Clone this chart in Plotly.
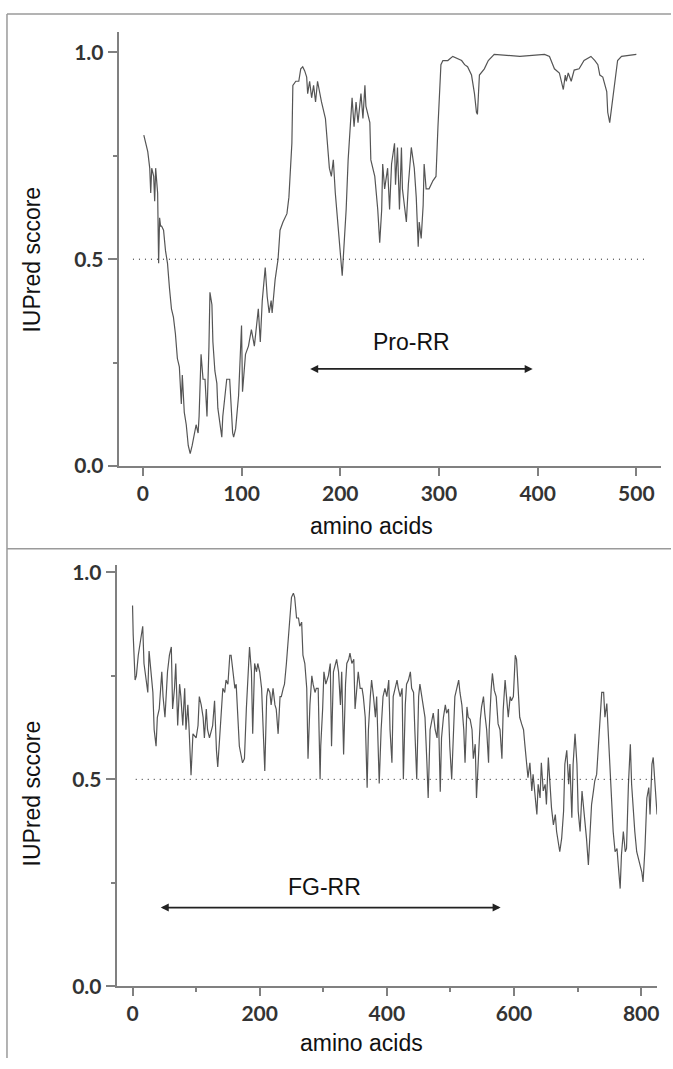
import plotly.graph_objects as go

W, H = 673, 1069

# IUPred profile, upper protein (residue, score)
top_aa = [1, 3, 5, 7, 8, 9, 11, 12, 13, 15, 16, 17, 18, 19, 21, 23, 25, 27, 29, 31, 33, 35, 37, 39, 40,
          42, 44, 46, 48, 50, 52, 54, 56, 57, 59, 61, 63, 65, 67, 68, 70, 71, 73, 75, 76, 79, 80, 81, 84,
          85, 88, 89, 91, 92, 94, 97, 100, 101, 104, 107, 110, 113, 116, 117, 119, 121, 124, 126, 128,
          130, 131, 134, 137, 139, 142, 146, 148, 151, 152, 155, 158, 160, 162, 164, 166, 167, 169, 171,
          173, 175, 177, 179, 181, 185, 187, 189, 191, 193, 195, 197, 199, 200, 202, 204, 206, 208, 210,
          212, 214, 216, 218, 221, 223, 225, 226, 230, 231, 235, 238, 240, 242, 243, 245, 248, 250, 252,
          255, 256, 258, 260, 262, 263, 267, 269, 272, 275, 277, 279, 280, 282, 284, 285, 287, 290, 294,
          297, 299, 302, 304, 309, 314, 318, 323, 326, 329, 333, 336, 338, 339, 341, 346, 350, 356, 382,
          407, 412, 417, 422, 424, 426, 428, 429, 431, 434, 437, 442, 447, 454, 458, 461, 463, 466, 470,
          471, 473, 474, 477, 481, 485, 500]
top_score = [0.80, 0.78, 0.76, 0.72, 0.66, 0.72, 0.70, 0.64, 0.72, 0.66, 0.49, 0.60, 0.58, 0.58, 0.57,
             0.52, 0.49, 0.43, 0.38, 0.36, 0.32, 0.26, 0.24, 0.15, 0.22, 0.13, 0.10, 0.05, 0.03, 0.05,
             0.08, 0.10, 0.08, 0.12, 0.27, 0.21, 0.21, 0.12, 0.29, 0.42, 0.39, 0.30, 0.23, 0.20, 0.14,
             0.08, 0.07, 0.12, 0.18, 0.21, 0.21, 0.16, 0.08, 0.07, 0.09, 0.17, 0.34, 0.18, 0.27, 0.29,
             0.33, 0.29, 0.36, 0.38, 0.30, 0.40, 0.48, 0.41, 0.37, 0.40, 0.37, 0.45, 0.50, 0.57, 0.59,
             0.61, 0.65, 0.78, 0.92, 0.93, 0.93, 0.96, 0.965, 0.955, 0.94, 0.90, 0.93, 0.89, 0.92, 0.88,
             0.93, 0.90, 0.88, 0.84, 0.78, 0.72, 0.70, 0.74, 0.66, 0.60, 0.54, 0.50, 0.46, 0.54, 0.62,
             0.74, 0.82, 0.89, 0.82, 0.88, 0.83, 0.90, 0.84, 0.92, 0.87, 0.83, 0.74, 0.70, 0.62, 0.54,
             0.62, 0.73, 0.67, 0.72, 0.62, 0.73, 0.78, 0.68, 0.77, 0.62, 0.77, 0.67, 0.59, 0.68, 0.77,
             0.72, 0.65, 0.53, 0.59, 0.55, 0.63, 0.73, 0.67, 0.67, 0.69, 0.70, 0.82, 0.97, 0.98, 0.98,
             0.99, 0.985, 0.98, 0.97, 0.965, 0.945, 0.90, 0.855, 0.85, 0.945, 0.96, 0.98, 0.995, 0.99,
             0.995, 0.99, 0.96, 0.95, 0.93, 0.91, 0.945, 0.93, 0.95, 0.93, 0.957, 0.96, 0.98, 0.99, 0.98,
             0.97, 0.945, 0.94, 0.905, 0.855, 0.83, 0.85, 0.905, 0.98, 0.99, 0.995]

# IUPred profile, lower protein
bot_aa = [0, 1, 4, 6, 9, 13, 16, 18, 21, 24, 26, 29, 32, 34, 37, 39, 42, 46, 48, 51, 55, 58, 61, 63, 66,
          68, 71, 74, 76, 79, 82, 84, 87, 89, 92, 95, 100, 103, 105, 108, 111, 113, 116, 118, 121, 126,
          129, 132, 134, 137, 139, 142, 145, 147, 150, 153, 155, 158, 161, 163, 168, 173, 176, 179, 182,
          184, 187, 189, 192, 195, 197, 200, 203, 205, 208, 211, 213, 216, 218, 221, 224, 226, 229, 232,
          234, 237, 239, 242, 245, 247, 250, 253, 255, 258, 261, 263, 266, 268, 271, 274, 276, 279, 282,
          284, 287, 289, 292, 295, 296, 299, 301, 304, 308, 311, 313, 316, 321, 324, 327, 329, 332, 335,
          337, 340, 342, 345, 348, 350, 353, 355, 358, 361, 363, 366, 369, 371, 374, 376, 379, 382, 384,
          387, 388, 391, 394, 397, 400, 403, 405, 408, 410, 413, 416, 418, 421, 424, 426, 429, 431, 434,
          437, 439, 442, 444, 447, 450, 452, 455, 460, 463, 465, 468, 471, 473, 476, 479, 481, 484, 486,
          489, 492, 494, 497, 499, 502, 505, 507, 510, 513, 515, 518, 521, 523, 526, 528, 531, 534, 536,
          539, 541, 544, 547, 549, 552, 554, 557, 560, 561, 564, 566, 569, 572, 575, 578, 581, 583, 586,
          589, 591, 594, 596, 599, 602, 604, 607, 609, 612, 615, 617, 620, 622, 625, 628, 630, 633, 636,
          638, 641, 643, 646, 649, 651, 654, 657, 659, 662, 665, 667, 670, 672, 675, 678, 680, 683, 686,
          688, 691, 693, 696, 699, 701, 704, 707, 709, 712, 714, 717, 719, 722, 725, 727, 730, 733, 736,
          738, 741, 743, 746, 748, 751, 754, 756, 759, 762, 764, 767, 769, 772, 775, 777, 780, 783, 785,
          788, 790, 793, 796, 798, 801, 803, 806, 809, 812, 814, 817, 819, 822, 825]
bot_score = [0.92, 0.85, 0.74, 0.75, 0.80, 0.84, 0.87, 0.78, 0.75, 0.71, 0.81, 0.76, 0.71, 0.62, 0.58,
             0.65, 0.67, 0.76, 0.70, 0.65, 0.76, 0.80, 0.82, 0.67, 0.72, 0.78, 0.63, 0.73, 0.70, 0.63,
             0.72, 0.62, 0.68, 0.62, 0.51, 0.61, 0.60, 0.63, 0.70, 0.68, 0.65, 0.60, 0.67, 0.62, 0.60,
             0.63, 0.69, 0.57, 0.53, 0.60, 0.65, 0.72, 0.71, 0.74, 0.73, 0.80, 0.80, 0.76, 0.72, 0.73,
             0.58, 0.54, 0.55, 0.67, 0.78, 0.82, 0.76, 0.61, 0.78, 0.76, 0.78, 0.76, 0.72, 0.62, 0.52,
             0.70, 0.72, 0.71, 0.68, 0.72, 0.68, 0.67, 0.61, 0.70, 0.70, 0.72, 0.73, 0.78, 0.85, 0.89,
             0.94, 0.95, 0.94, 0.89, 0.89, 0.87, 0.88, 0.80, 0.78, 0.72, 0.55, 0.68, 0.75, 0.73, 0.71,
             0.72, 0.72, 0.50, 0.58, 0.67, 0.76, 0.73, 0.75, 0.78, 0.58, 0.76, 0.79, 0.76, 0.68, 0.76,
             0.56, 0.73, 0.78, 0.79, 0.805, 0.78, 0.79, 0.67, 0.73, 0.76, 0.72, 0.72, 0.70, 0.65, 0.48,
             0.62, 0.70, 0.74, 0.70, 0.65, 0.70, 0.55, 0.49, 0.62, 0.70, 0.72, 0.70, 0.74, 0.62, 0.54,
             0.70, 0.72, 0.74, 0.72, 0.70, 0.72, 0.50, 0.68, 0.73, 0.74, 0.76, 0.72, 0.71, 0.62, 0.50,
             0.70, 0.73, 0.70, 0.65, 0.54, 0.455, 0.62, 0.65, 0.66, 0.62, 0.60, 0.67, 0.47, 0.60, 0.65,
             0.68, 0.66, 0.67, 0.58, 0.50, 0.62, 0.70, 0.72, 0.74, 0.71, 0.68, 0.62, 0.54, 0.675, 0.65,
             0.645, 0.62, 0.55, 0.585, 0.455, 0.57, 0.645, 0.675, 0.70, 0.66, 0.62, 0.54, 0.62, 0.715,
             0.756, 0.715, 0.70, 0.634, 0.62, 0.55, 0.667, 0.74, 0.675, 0.65, 0.70, 0.69, 0.70, 0.80,
             0.79, 0.70, 0.65, 0.634, 0.62, 0.585, 0.54, 0.504, 0.54, 0.472, 0.512, 0.455, 0.415, 0.488,
             0.455, 0.54, 0.472, 0.488, 0.439, 0.553, 0.472, 0.431, 0.39, 0.415, 0.374, 0.341, 0.325,
             0.358, 0.423, 0.537, 0.57, 0.488, 0.537, 0.407, 0.537, 0.61, 0.537, 0.423, 0.374, 0.472,
             0.439, 0.407, 0.358, 0.293, 0.35, 0.439, 0.472, 0.496, 0.512, 0.585, 0.683, 0.71, 0.71,
             0.65, 0.683, 0.618, 0.553, 0.455, 0.374, 0.325, 0.333, 0.293, 0.236, 0.317, 0.374, 0.325,
             0.333, 0.488, 0.585, 0.488, 0.415, 0.374, 0.325, 0.309, 0.293, 0.276, 0.252, 0.333, 0.455,
             0.48, 0.415, 0.537, 0.553, 0.488, 0.415]

top_ticks = [0, 100, 200, 300, 400, 500]
bot_ticks = [0, 200, 400, 600, 800]
bot_minor = [100, 300, 500, 700]
y_ticks = [0, 0.5, 1.0]
y_ticktext = ["0.0", "0.5", "1.0"]

# cutoff line and region arrows
top_cut = [-10, 509]
bot_cut = [5, 820]
pro_rr = dict(start=168, end=395, y=0.235, label="Pro-RR", lx=272, ly=0.30)
fg_rr = dict(start=42, end=579, y=0.19, label="FG-RR", lx=302, ly=0.24)


def px(x):
    return x / W


def py(y):
    return 1 - y / H


LINE = "#555555"
AXIS = "#808080"
tickfont = dict(family="Lato", size=21, color="#333333", weight="bold")
labfont = dict(family="Liberation Sans", size=23, color="#111111")

fig = go.Figure()
fig.add_trace(go.Scatter(x=top_aa, y=top_score, mode="lines",
                         line=dict(color=LINE, width=1.2), xaxis="x", yaxis="y"))
fig.add_trace(go.Scatter(x=top_cut, y=[0.5, 0.5], mode="lines",
                         line=dict(color="#222", width=1, dash="1px,5px"), xaxis="x", yaxis="y"))
fig.add_trace(go.Scatter(x=bot_aa, y=bot_score, mode="lines",
                         line=dict(color=LINE, width=1.2), xaxis="x2", yaxis="y2"))
fig.add_trace(go.Scatter(x=bot_cut, y=[0.5, 0.5], mode="lines",
                         line=dict(color="#222", width=1, dash="1px,5px"), xaxis="x2", yaxis="y2"))

ax_common = dict(showline=True, linecolor=AXIS, linewidth=1.8, ticks="outside", tickcolor=AXIS,
                 tickwidth=1.5, showgrid=False, zeroline=False, tickfont=tickfont)

fig.update_layout(
    width=W, height=H, margin=dict(l=0, r=0, t=0, b=0),
    paper_bgcolor="white", plot_bgcolor="white", showlegend=False,
    xaxis=dict(domain=[px(119), px(663)], range=[-24.5, 525], anchor="y",
               tickvals=top_ticks, ticklen=8, **ax_common),
    yaxis=dict(domain=[py(467), py(25)], range=[0, 1.05], anchor="x",
               tickvals=y_ticks, ticktext=y_ticktext, ticklen=9,
               minor=dict(tickvals=[0.25, 0.75], ticklen=4, ticks="outside", tickcolor=AXIS),
               **ax_common),
    xaxis2=dict(domain=[px(117), px(659)], range=[-25, 825], anchor="y2",
                tickvals=bot_ticks, ticklen=8,
                minor=dict(tickvals=bot_minor, ticklen=4, ticks="outside", tickcolor=AXIS),
                **ax_common),
    yaxis2=dict(domain=[py(996), py(568)], range=[0, 1.017], anchor="x2",
                tickvals=y_ticks, ticktext=y_ticktext, ticklen=9,
                minor=dict(tickvals=[0.25, 0.75], ticklen=4, ticks="outside", tickcolor=AXIS),
                **ax_common),
)

annos = [
    dict(x=px(32), y=py(257), text="IUPred sccore", textangle=-90),
    dict(x=px(32), y=py(800), text="IUPred sccore", textangle=-90),
    dict(x=px(373), y=py(528), text="amino acids"),
    dict(x=px(363), y=py(1054), text="amino acids"),
]
for a in annos:
    fig.add_annotation(xref="paper", yref="paper", showarrow=False, font=labfont,
                       xanchor="center", yanchor="middle", **a)

for reg, xr, yr in [(pro_rr, "x", "y"), (fg_rr, "x2", "y2")]:
    fig.add_annotation(x=reg["end"], y=reg["y"], ax=reg["start"], ay=reg["y"],
                       xref=xr, yref=yr, axref=xr, ayref=yr, text="", showarrow=True,
                       arrowhead=2, startarrowhead=2, arrowside="end+start",
                       arrowsize=1, startarrowsize=1, arrowwidth=1.6, arrowcolor="#222")
    fig.add_annotation(x=reg["lx"], y=reg["ly"], xref=xr, yref=yr, text=reg["label"],
                       showarrow=False, font=labfont)

# panel frame lines
frame = "#9a9a9a"
fig.add_shape(type="line", xref="paper", yref="paper", x0=px(7), x1=px(7), y0=0, y1=py(7),
              line=dict(color=frame, width=1.5))
fig.add_shape(type="line", xref="paper", yref="paper", x0=px(7), x1=1, y0=py(7), y1=py(7),
              line=dict(color=frame, width=1.5))
fig.add_shape(type="line", xref="paper", yref="paper", x0=px(7), x1=1, y0=py(551), y1=py(551),
              line=dict(color=frame, width=1.5))

fig.write_html("out.html", config={"displayModeBar": False},
               post_script="document.body.style.margin='0';"
                           "document.body.style.overflow='hidden';"
                           "document.documentElement.style.overflow='hidden';")
